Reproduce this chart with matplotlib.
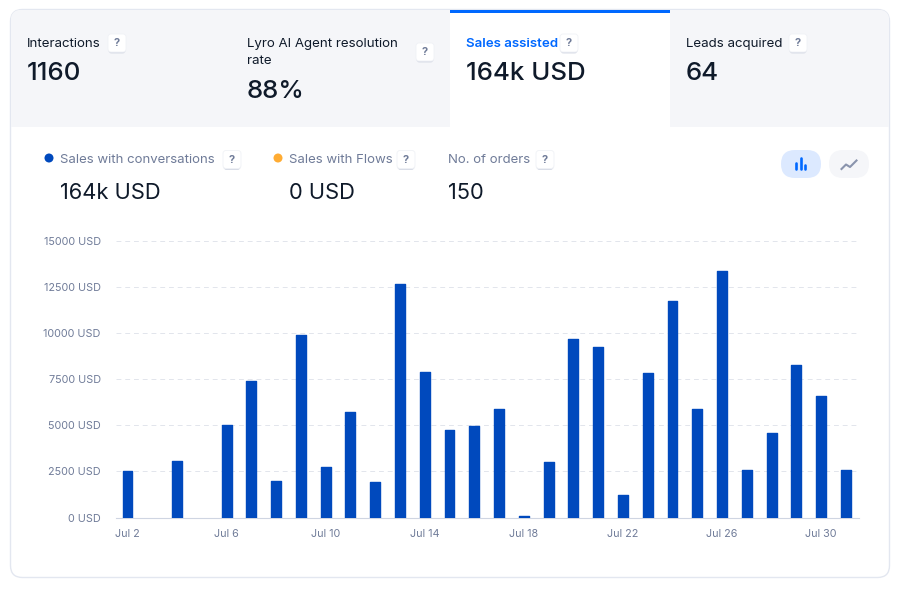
import matplotlib
matplotlib.use("Agg")
import matplotlib.pyplot as plt
from matplotlib.patches import FancyBboxPatch, Rectangle, Circle

plt.rcParams["font.family"] = ["Inter", "DejaVu Sans"]

# chart data
days = [2, 3, 4, 5, 6, 7, 8, 9, 10, 11, 12, 13, 14, 15, 16,
        17, 18, 19, 20, 21, 22, 23, 24, 25, 26, 27, 28, 29, 30, 31]
sales = [2500, 0, 3050, 0, 5000, 7400, 2000, 9900, 2720, 5700, 1950, 12650, 7900, 4750, 4950,
         5900, 100, 3000, 9700, 9250, 1200, 7850, 11750, 5900, 13350, 2600, 4600, 8300, 6600, 2550]
y_ticks = [0, 2500, 5000, 7500, 10000, 12500, 15000]
x_ticks = [2, 6, 10, 14, 18, 22, 26, 30]
x_labels = ["Jul 2", "Jul 6", "Jul 10", "Jul 14", "Jul 18", "Jul 22", "Jul 26", "Jul 30"]

tab_titles = ["Interactions", "Lyro AI Agent resolution\nrate", "Sales assisted", "Leads acquired"]
tab_values = ["1160", "88%", "164k USD", "64"]
stat_titles = ["Sales with conversations", "Sales with Flows", "No. of orders"]
stat_values = ["164k USD", "0 USD", "150"]

W, H = 904, 591
DARK = "#0f1a2a"
MUTED = "#6f7b98"
BLUE = "#0068ff"
BAR = "#0049bd"
GREY_BG = "#f5f6f9"


def px(size):
    return size * 0.72


def help_badge(ax, x, y):
    # small white "?" button with a soft shadow
    ax.add_patch(FancyBboxPatch((x - 8.5, y - 7), 17, 17.5, boxstyle="round,pad=0,rounding_size=3",
                                fc="#d9dde7", ec="none", zorder=5))
    ax.add_patch(FancyBboxPatch((x - 9, y - 9), 18, 18, boxstyle="round,pad=0,rounding_size=3",
                                fc="white", ec="#f0f2f6", lw=0.6, zorder=6))
    ax.text(x, y + 0.3, "?", fontsize=px(11), fontweight="bold", color=MUTED,
            ha="center", va="center", zorder=7)


fig = plt.figure(figsize=(W / 100, H / 100), dpi=100, facecolor="white")

# overlay in pixel coordinates for the card around the chart
ui = fig.add_axes([0, 0, 1, 1])
ui.set_xlim(0, W)
ui.set_ylim(H, 0)
ui.axis("off")

card = FancyBboxPatch((10.5, 9.5), 879, 568, boxstyle="round,pad=0,rounding_size=12",
                      fc="white", ec="#e3e7f0", lw=1, zorder=3)
ui.add_patch(card)

# tab strip, clipped to the rounded card
header = Rectangle((11, 10), 878, 117, fc=GREY_BG, ec="none", zorder=3.2)
ui.add_patch(header)
header.set_clip_path(card)
ui.add_patch(Rectangle((450, 10), 220, 117, fc="white", ec="none", zorder=3.3))
ui.add_patch(Rectangle((450, 10), 220, 3, fc=BLUE, ec="none", zorder=3.4))

tab_x = [27, 247, 466, 686]
badge_x = [117, 425, 569, 798]
for i in range(4):
    two_lines = "\n" in tab_titles[i]
    ax_color = BLUE if i == 2 else DARK
    ui.text(tab_x[i], 38, tab_titles[i], fontsize=px(13.3), color=ax_color, va="top",
            fontweight="semibold" if i == 2 else "normal", linespacing=1.6, zorder=8)
    ui.text(tab_x[i], 92 if two_lines else 74, tab_values[i], fontsize=px(25.8), color=DARK,
            va="center", fontweight="medium", zorder=8)
    help_badge(ui, badge_x[i], 52 if two_lines else 43)

# stats row above the chart
stat_x = [60, 289, 448]
stat_badge = [232, 406, 545]
for i in range(3):
    ui.text(stat_x[i], 160, stat_titles[i], fontsize=px(13.2), color=MUTED, va="center", zorder=8)
    ui.text(stat_x[i], 193, stat_values[i], fontsize=px(21.9), color=DARK, va="center", zorder=8)
    help_badge(ui, stat_badge[i], 159.5)
ui.add_patch(Circle((49, 158), 4.5, fc=BAR, ec="none", zorder=8))
ui.add_patch(Circle((278, 158), 4.5, fc="#ffac33", ec="none", zorder=8))

# bar / line toggle
ui.add_patch(FancyBboxPatch((781, 150), 40, 28, boxstyle="round,pad=0,rounding_size=14",
                            fc="#dce9ff", ec="none", zorder=8))
ui.add_patch(FancyBboxPatch((829, 150), 40, 28, boxstyle="round,pad=0,rounding_size=14",
                            fc=GREY_BG, ec="none", zorder=8))
for bx, top in [(796.5, 163), (801, 158), (805.5, 165)]:
    ui.plot([bx, bx], [top, 169], color=BLUE, lw=1.9, solid_capstyle="round", zorder=9)
ui.plot([841.5, 846, 850, 856.5], [169, 164.5, 167, 160.5], color="#8a94ad", lw=1.5, zorder=9)

# the chart itself
ax = fig.add_axes([116 / W, 1 - 517.5 / H, 743 / W, 276.5 / H], zorder=10)
ax.patch.set_alpha(0)
shown = [(d, v) for d, v in zip(days, sales) if v > 0]
ax.bar([d for d, v in shown], [v for d, v in shown], width=0.40, color=BAR, edgecolor=BAR,
       linewidth=1, joinstyle="round", zorder=3)
ax.set_xlim(1.536, 31.53)
ax.set_ylim(0, 15000)
ax.set_yticks(y_ticks)
ax.set_yticklabels([f"{v} USD" for v in y_ticks])
ax.set_xticks(x_ticks)
ax.set_xticklabels(x_labels)
ax.tick_params(axis="both", length=0, labelsize=px(10.8), labelcolor=MUTED)
ax.tick_params(axis="y", pad=11)
ax.tick_params(axis="x", pad=8.2)
ax.grid(True, axis="y", color="#e2e5ec", linestyle=(0, (5, 4)), linewidth=0.7, zorder=0)
ax.set_axisbelow(True)
for name, spine in ax.spines.items():
    spine.set_visible(name == "bottom")
ax.spines["bottom"].set_color("#cfd5e2")
ax.spines["bottom"].set_linewidth(0.8)

fig.savefig("out.png", dpi=100)
plt.close(fig)
